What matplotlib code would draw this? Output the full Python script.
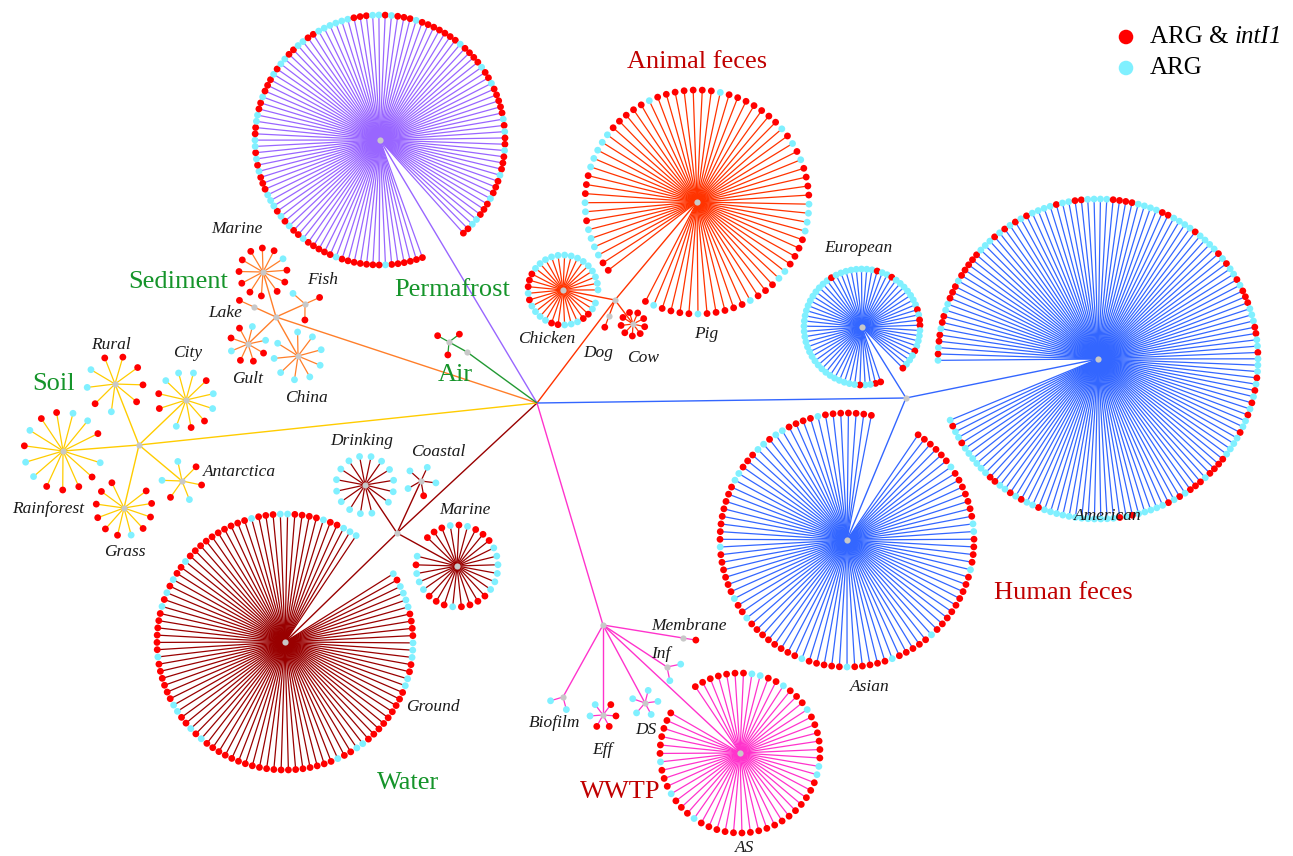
import numpy as np
import matplotlib.pyplot as plt
from matplotlib.collections import LineCollection

plt.rcParams['font.family'] = ['Liberation Serif', 'DejaVu Serif']

# ====== 各サンプルの判定 (r = ARG & intI1, c = ARG のみ) ======
permafrost = ("rrrrrrcrrrrrrrcrr"
              "rrrcrrcrcrcccrrrcrcrccrrccrrcrrrcrccrrccrrccccccrrrccrcrrrc"
              "rrrrrrrcrrrrcrrcrrrrrcrcrrcrrrcrrrcrrrccrr")
pig = "rrccccrccrrrcccccrrrrrcrrrrrrrcrrrrrrrcrcrcrrrrccccrrrrccrr" "rcrrrrrcrrrrcr"
chicken = "ccrrcccrrccccrcrrrcccccccccccccc"
dog = "r"
cow = "rrrrrrrrr"
european = ("rrccr" "ccccccccccccccccccccccccccc" "r" "cccccccc" "r" "cc" "r"
            "ccccccc" "r" "c" "rr" "cccc" "r" "ccc" "r")
american = ("crcrrcrrcc" "rrrcrrrrrc" "ccrcrcrcrc" "cccrccrrcc" "ccrrrrcccc"
            "rrccccrccc" "crcrccrcrr" "rcccrrccrc" "ccrcrcrcrc" "crccccrrrr"
            "crrrcrcrcc" "cccrcrcccc" "ccccccccrc" "crcrccrrcc" "ccccrccrc")
asian = ("rrrrrr" "c" "rrrrrrr" "cc" "rrrr" "c" "rrrrrrrrr" "c" "rrrrr" "c" "rrrrr"
         "c" "rrrrr" "c" "rrrrrrrr" "c" "rr" "c" "rrrrrr" "c" "rrrrrrrr" "cc" "rrr"
         "cc" "r" "cc" "rrrr" "c" "rrrrrrr")
membrane = "r"
inf = "cc"
act_sludge = "rrrrrrrccrrcrrrcrrrrrrccrrrrrrrrrrrrrrrrrcrrrcrrrcrrrrrr"
ds = "ccccc"
eff = "rrrrcc"
biofilm = "cc"
drinking = "ccccccccccccccc"
coastal = "ccccr"
marine_water = "rrrcrcrrrccccccrrrrcrrrcccrc"
ground = ("crcccc" "rrrr" "ccc" "rr" "cc" "rrrrrrrrr" "cc" "rr" "c" "rrrrrrrrrrrrrrrrrrr"
          "c" "r" "c" "rr" "cc" "rrrrrr" "c" "rrrrrr" "c" "r" "c" "r" "c" "rr" "c"
          "rrrrrrrrrr" "c" "rrr" "cc" "rrrr" "c" "rr" "ccc")
rainforest = "crrrrccrcrrccr"
rural = "crccrrrrr"
city = "rrcccrccrrc"
antarctica = "crrcrc"
grass = "rrrrcrrrrrr"
marine_sed = "rrrrrrrrcrrr"
lake = "r"
fish = "crr"
gult = "crrrcrrc"
china = "ccccccccc"
air = "rrr"

# ====== 樹形のレイアウト (px) ======
pos = {
    "root": (537, 403),
    "perma": (380, 140),
    "animal": (615, 300), "pig": (697, 202), "chicken": (563, 290),
    "dog": (609, 316), "cow": (633, 324),
    "human": (906, 398), "european": (862, 327), "american": (1098, 359), "asian": (847, 540),
    "wwtp": (603, 625), "membrane": (683, 638), "inf": (667, 667), "as": (740, 753),
    "ds": (645, 703), "eff": (603, 715), "biofilm": (563, 697),
    "water": (397, 533), "drinking": (365, 485), "coastal": (421, 481),
    "marine_w": (457, 566), "ground": (285, 642),
    "soil": (139, 445), "rainforest": (63, 451), "rural": (115, 384), "city": (186, 400),
    "antarctica": (182, 481), "grass": (124, 508),
    "sediment": (276, 317), "marine_s": (263, 272), "lake": (254, 307), "fish": (305, 304),
    "gult": (248, 344), "china": (298, 356),
    "air_mid": (467, 352), "air": (449, 342),
}

groups = [
    ("#9966ff", [("root", "perma")]),
    ("#ff3300", [("root", "animal"), ("animal", "pig"), ("animal", "chicken"),
                 ("animal", "dog"), ("animal", "cow")]),
    ("#3366ff", [("root", "human"), ("human", "european"), ("human", "american"),
                 ("human", "asian")]),
    ("#ff33cc", [("root", "wwtp"), ("wwtp", "membrane"), ("wwtp", "inf"), ("wwtp", "as"),
                 ("wwtp", "ds"), ("wwtp", "eff"), ("wwtp", "biofilm")]),
    ("#990000", [("root", "water"), ("water", "drinking"), ("water", "coastal"),
                 ("water", "marine_w"), ("water", "ground")]),
    ("#ffcc00", [("root", "soil"), ("soil", "rainforest"), ("soil", "rural"), ("soil", "city"),
                 ("soil", "antarctica"), ("soil", "grass")]),
    ("#ff7f2a", [("root", "sediment"), ("sediment", "marine_s"), ("sediment", "lake"),
                 ("sediment", "fish"), ("sediment", "gult"), ("sediment", "china")]),
    ("#229933", [("root", "air_mid"), ("air_mid", "air")]),
]

# node: (leaves, radius, gap in degrees around the parent edge)
clusters = {
    "perma": (permafrost, 125, 22),
    "pig": (pig, 112, 25), "chicken": (chicken, 35, 22), "dog": (dog, 12, 0),
    "cow": (cow, 12, 40),
    "european": (european, 58, 26), "american": (american, 160, 22), "asian": (asian, 127, 23),
    "membrane": (membrane, 13, 0), "inf": (inf, 14, 270), "as": (act_sludge, 80, 26),
    "ds": (ds, 13, 85), "eff": (eff, 13, 74), "biofilm": (biofilm, 13, 272),
    "drinking": (drinking, 29, 40), "coastal": (coastal, 15, 70),
    "marine_w": (marine_water, 41, 30), "ground": (ground, 128, 24),
    "rainforest": (rainforest, 39, 44), "rural": (rural, 28, 58), "city": (city, 28, 52),
    "antarctica": (antarctica, 20, 76), "grass": (grass, 28, 78),
    "marine_s": (marine_sed, 24, 40), "lake": (lake, 16, 0), "fish": (fish, 16, 131),
    "gult": (gult, 18, 64), "china": (china, 24, 57),
    "air": (air, 13, 132),
}

leaf_color = {"r": "#ff0000", "c": "#80f0ff"}

fig = plt.figure(figsize=(12.93, 8.56), dpi=100)
ax = fig.add_axes([0, 0, 1, 1])
ax.set_xlim(0, 1293)
ax.set_ylim(856, 0)
ax.axis("off")

parent_of = {}
for color, edges in groups:
    for a, b in edges:
        parent_of[b] = a

leaf_x, leaf_y, leaf_c = [], [], []
for color, edges in groups:
    segs = [[pos[a], pos[b]] for a, b in edges]
    ax.add_collection(LineCollection(segs, colors=color, linewidths=1.0, zorder=1))
    spokes = []
    for a, b in edges:
        if b not in clusters:
            continue
        leaves, rad, gap = clusters[b]
        cx, cy = pos[b]
        px, py = pos[parent_of[b]]
        gdir = np.degrees(np.arctan2(py - cy, px - cx))
        n = len(leaves)
        if n == 1:
            ang = np.array([gdir + 180.0])
        else:
            start = gdir + gap / 2
            ang = np.linspace(start, start + 360 - gap, n)
        xs = cx + rad * np.cos(np.radians(ang))
        ys = cy + rad * np.sin(np.radians(ang))
        for x, y, s in zip(xs, ys, leaves):
            spokes.append([(cx, cy), (x, y)])
            leaf_x.append(x)
            leaf_y.append(y)
            leaf_c.append(leaf_color[s])
    ax.add_collection(LineCollection(spokes, colors=color, linewidths=0.9, zorder=2))

ax.scatter(leaf_x, leaf_y, s=24, c=leaf_c, linewidths=0, zorder=3)

gray = [pos[k] for k in pos if k != "root"]
ax.scatter([p[0] for p in gray], [p[1] for p in gray], s=20, c="#c8c8c8",
           linewidths=0, zorder=4)

# ====== ラベル ======
dark_red = "#c00000"
green = "#15942a"
big = [
    ("Animal feces", 697, 62, dark_red), ("Permafrost", 452, 290, green),
    ("Sediment", 178, 282, green), ("Soil", 54, 384, green), ("Air", 455, 375, green),
    ("Human feces", 1063, 593, dark_red), ("Water", 408, 783, green),
    ("WWTP", 620, 792, dark_red),
]
for t, x, y, c in big:
    ax.text(x, y, t, fontsize=19, color=c, ha="center", va="center")

small = [
    ("Marine", 237, 229), ("Fish", 323, 280), ("Lake", 225, 313), ("Gult", 248, 379),
    ("China", 306, 398), ("Rural", 111, 345), ("City", 188, 353), ("Rainforest", 48, 509),
    ("Grass", 125, 552), ("Antarctica", 240, 472), ("Drinking", 362, 441),
    ("Coastal", 438, 452), ("Marine", 465, 510), ("Ground", 433, 707),
    ("Chicken", 547, 339), ("Dog", 598, 353), ("Cow", 643, 358), ("Pig", 706, 334),
    ("European", 858, 248), ("American", 1108, 516), ("Asian", 870, 687),
    ("Membrane", 689, 626), ("Inf", 661, 654), ("Biofilm", 555, 723), ("Eff", 602, 750),
    ("DS", 646, 730), ("AS", 745, 848),
]
for t, x, y in small:
    ax.text(x, y, t, fontsize=12.5, style="italic", color="#1a1a1a",
            ha="center", va="center")

# 凡例
ax.scatter([1126, 1126], [37, 68], s=110, c=["#ff0000", "#80f0ff"], linewidths=0, zorder=5)
t1 = ax.text(1150, 37, "ARG & ", fontsize=18, ha="left", va="center")
ax.text(1150, 68, "ARG", fontsize=18, ha="left", va="center")
renderer = fig.canvas.get_renderer()
bb = t1.get_window_extent(renderer=renderer)
x_end = ax.transData.inverted().transform((bb.x1, bb.y0))[0]
ax.text(x_end, 37, "intI1", fontsize=18, style="italic", ha="left", va="center")

fig.savefig("out.png", dpi=100)
